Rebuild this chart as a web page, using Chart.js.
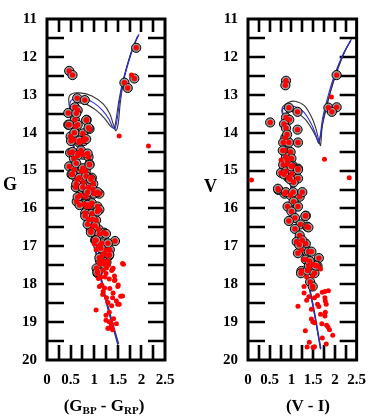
<!DOCTYPE html>
<html>
<head>
<meta charset="utf-8">
<script src="https://cdn.jsdelivr.net/npm/chart.js@4.4.0/dist/chart.umd.min.js"></script>
<style>
  body { margin: 0; background: #fff; }
  #wrap { position: relative; width: 377px; height: 417px; overflow: hidden;
          font-family: 'Liberation Serif', 'Times New Roman', serif; font-weight: bold; color: #000; }
  canvas { position: absolute; top: 0; }
  .lbl { position: absolute; font-size: 17px; line-height: 1; white-space: nowrap; }
  .lbl sub { font-size: 11px; vertical-align: -3px; line-height: 0; }
</style>
</head>
<body>
<div id="wrap">
  <canvas id="cmdGaia" width="188" height="417" style="left:0"></canvas>
  <canvas id="cmdVI" width="189" height="417" style="left:188px"></canvas>
  <div class="lbl" style="left:3px; top:175px; font-size:18px">G</div>
  <div class="lbl" style="left:204px; top:177px; font-size:18px">V</div>
  <div class="lbl" style="left:44px; top:397px; width:120px; text-align:center">(G<sub>BP</sub> - G<sub>RP</sub>)</div>
  <div class="lbl" style="left:248px; top:397px; width:120px; text-align:center">(V - I)</div>
</div>
<script>
// tick positions (labels at every 0.5 / 1, inner marks at 0.25 / 0.5)
const colourMarks = [0.25, 0.5, 0.75, 1, 1.25, 1.5, 1.75, 2, 2.25];
const magMarks = [11.5, 12, 12.5, 13, 13.5, 14, 14.5, 15, 15.5, 16, 16.5, 17, 17.5, 18, 18.5, 19, 19.5];

// Gaia panel: members [BP-RP, G]
const gaiaMembers = [
  [0.47,12.37],[0.54,12.48],[0.64,13.09],[0.80,13.14],[0.59,13.33],[0.65,13.41],[0.45,13.48],[0.59,13.66],
  [0.84,13.66],[0.45,13.79],[0.61,13.83],[0.90,13.90],[0.76,14.02],[0.50,14.10],[0.79,14.16],[0.57,14.19],
  [0.68,14.26],[1.89,11.76],[1.64,12.68],[1.85,12.57],[1.71,12.82],
  [0.51,14.22],[0.78,14.22],[0.49,14.53],[0.66,14.55],[0.76,14.58],[0.88,14.64],[0.57,14.68],[0.90,14.83],
  [0.47,14.89],[0.57,14.98],[0.73,15.02],[0.52,15.10],[0.82,15.02],[0.95,15.19],[0.64,15.23],[0.77,15.31],
  [0.98,15.35],[0.88,15.44],[0.61,15.44],[1.11,15.61],[0.70,15.65],[0.82,15.69],[0.63,15.82],[0.95,15.86],
  [0.79,15.89],[0.90,15.94],[1.07,15.95],[0.84,15.95],[1.11,16.03],[0.81,16.12],[0.95,16.14],[0.88,16.29],
  [1.04,16.31],[0.97,16.46],[0.93,16.58],[1.09,16.55],[1.21,16.64],[1.02,16.84],[1.44,16.86],[1.16,16.92],
  [1.09,17.00],[1.33,17.09],[1.19,17.21],[1.31,17.25],[1.12,17.37],[1.26,17.42],[1.05,17.58],[1.07,17.71],
  [1.19,17.40],[0.65,15.70],[0.83,15.65],[1.00,15.61],[0.69,15.91],[0.86,15.91],[1.07,16.08],[0.81,16.20],
  [0.97,16.29],[0.86,16.42],[1.02,16.46],[0.93,16.63],[1.11,16.67],[1.25,16.67],[1.04,16.84],[1.29,16.92],
  [1.14,17.05],[1.32,17.22],[1.11,17.30],[1.22,17.47],[1.07,17.68],
  [0.62,13.49],[0.47,13.79],[0.65,13.79],[0.83,13.67],[0.58,14.00],[0.88,13.87],[0.69,14.21],[0.83,14.17],
  [0.54,14.51],[0.72,14.47],[0.65,14.60],[0.86,14.55],[0.62,14.81],[0.76,14.94],[0.90,14.85],[0.54,15.10],
  [0.69,15.19],[0.83,15.15],[0.93,15.23],[0.62,15.36],[0.76,15.44],[0.97,15.49],[0.86,15.57],[1.07,15.57]
];
const gaiaField = [
  [1.79,12.48],[1.53,14.09],[2.15,14.35],
  [1.00,16.93],[1.25,17.10],[1.16,17.27],[1.60,17.45],[1.30,17.50],[1.40,17.58],[1.19,17.63],
  [1.12,17.47],[1.26,17.57],[1.37,17.64],[1.62,17.47],[1.09,17.85],[1.23,17.81],[1.44,17.89],[1.16,18.02],
  [1.33,18.11],[1.51,18.02],[1.19,18.19],[1.40,18.23],[1.56,18.32],[1.26,18.36],[1.47,18.44],[1.04,18.68],
  [1.37,18.57],[1.53,18.53],[1.25,18.82],[1.41,18.91],[1.32,18.99],[1.47,19.04],[1.30,19.16],[1.39,19.20],
  [1.36,19.12],[1.14,17.81],[1.32,17.86],[1.43,17.90],[1.11,18.06],[1.22,18.10],[1.50,18.06],[1.60,18.31],
  [1.18,18.27],[1.39,18.36],[1.29,18.48],[1.50,18.53],[1.32,18.74],[1.25,18.95],[1.36,19.04],[1.29,19.16],
  [1.04,17.09],[1.22,17.18],[1.11,17.43],[1.29,17.39],[1.39,17.60],[1.25,17.72],[1.43,17.78]
];
const gaiaIsoOuter = [
  [1.50,19.60],[1.30,18.70],[1.16,18.00],[1.07,17.40],[0.97,16.85],[0.80,16.20],[0.66,15.60],[0.60,15.00],
  [0.55,14.30],[0.50,13.55],[0.46,13.10],[0.52,12.98],[0.70,12.95],[0.95,13.03],[1.19,13.24],[1.33,13.50],
  [1.41,13.80],[1.46,13.95],[1.51,13.75],[1.55,13.24],[1.62,12.65],[1.72,12.14],[1.83,11.72],[1.94,11.42]
];
const gaiaIsoBest = [
  [1.51,19.58],[1.31,18.70],[1.17,18.00],[1.08,17.40],[0.98,16.85],[0.81,16.20],[0.67,15.60],[0.61,15.00],
  [0.56,14.30],[0.51,13.60],[0.49,13.20],[0.60,13.10],[0.78,13.10],[1.00,13.22],[1.18,13.42],[1.31,13.64],
  [1.39,13.85],[1.44,13.90],[1.49,13.62],[1.54,13.15],[1.63,12.58],[1.75,12.05],[1.86,11.65],[1.95,11.40]
];
const gaiaIsoInner = [
  [1.52,19.58],[1.32,18.70],[1.18,18.00],[1.09,17.40],[0.99,16.85],[0.82,16.20],[0.68,15.60],[0.62,15.00],
  [0.57,14.30],[0.53,13.65],[0.52,13.30],[0.65,13.22],[0.85,13.26],[1.05,13.42],[1.22,13.62],[1.34,13.82],
  [1.42,13.88],[1.47,13.60],[1.52,13.18],[1.60,12.68],[1.70,12.22],[1.82,11.75],[1.92,11.45]
];

// Johnson panel: members [V-I, V]
const viMembers = [
  [0.875,12.63],[0.86,12.75],[0.51,13.73],[0.94,13.34],[1.14,13.45],[0.875,13.60],[0.95,13.66],[0.83,13.77],
  [1.14,13.92],[0.875,13.88],[0.86,14.13],[0.81,14.26],[1.15,14.26],[0.94,14.26],
  [2.04,12.48],[1.85,13.34],[2.04,13.33],[1.93,13.45],
  [0.84,14.47],[0.98,14.51],[0.875,14.64],[1.00,14.68],[0.81,14.85],[0.91,14.83],[1.03,14.87],[1.15,14.95],
  [0.76,15.06],[0.875,15.02],[1.01,15.09],[0.93,15.19],[1.15,15.21],[1.05,15.31],[0.70,15.51],[0.84,15.61],
  [0.98,15.65],[1.19,15.69],[1.05,15.82],[0.91,15.95],[1.15,15.95],[1.33,16.19],[1.00,16.08],[1.08,16.25],
  [0.94,16.33],[1.21,16.42],[1.36,16.48],[1.08,16.54],[1.19,16.71],[1.12,16.88],[1.33,16.93],[1.23,17.10],
  [1.40,17.14],[1.46,17.14],[1.15,17.18],[1.63,17.31],[1.33,17.35],[1.50,17.48],[1.23,17.65],[1.40,17.60],
  [1.60,17.52],[1.22,17.71],[1.37,17.64],[1.53,17.71],[1.43,17.94],[1.49,18.06],[1.40,17.51],[1.56,17.51],
  [0.90,14.05],[0.80,14.47],[0.90,14.72],[1.00,14.89],[1.15,14.98],[0.83,15.10],[0.97,15.23],[0.69,15.48],
  [0.87,15.57],[1.04,15.57],[1.25,15.57],[1.32,16.20],[1.39,16.50],[1.25,16.84],[1.18,16.96],[1.42,17.39]
];
const viField = [
  [1.92,13.06],[1.76,14.70],[0.08,15.25],[2.33,15.19],[0.76,14.72],
  [1.28,17.35],[1.67,17.60],[1.49,17.77],[1.35,17.81],
  [1.29,18.06],[1.49,18.10],[1.85,18.17],[1.77,18.19],[1.71,18.21],[1.29,18.23],[1.60,18.30],[1.40,18.33],
  [1.53,18.36],[1.77,18.36],[1.35,18.42],[1.78,18.44],[1.80,18.53],[1.60,18.53],[1.15,18.58],[1.63,18.59],
  [1.46,18.66],[1.78,18.74],[1.67,18.79],[1.77,18.84],[1.46,18.92],[1.49,18.99],[1.53,19.02],[1.70,19.04],
  [1.81,19.08],[1.84,19.13],[1.875,19.20],[1.32,19.23],[1.95,19.35],[1.71,19.42],[1.41,19.53],[1.80,19.58],
  [1.53,19.65],[1.36,19.66],[1.50,19.67]
];
const viIsoOuter = [
  [1.67,19.72],[1.50,18.62],[1.35,17.77],[1.25,17.12],[1.15,16.52],[1.05,15.92],[0.97,15.32],[0.90,14.62],
  [0.85,14.02],[0.80,13.45],[0.79,13.33],[0.94,13.20],[1.08,13.17],[1.29,13.28],[1.46,13.58],[1.57,13.92],
  [1.64,14.26],[1.67,14.34],[1.71,13.83],[1.81,13.33],[1.92,12.82],[2.06,12.31],[2.23,11.85],[2.38,11.53]
];
const viIsoBest = [
  [1.67,19.70],[1.50,18.60],[1.35,17.75],[1.25,17.10],[1.15,16.50],[1.05,15.90],[0.97,15.30],[0.90,14.60],
  [0.85,14.00],[0.80,13.55],[0.78,13.40],[0.95,13.30],[1.10,13.32],[1.28,13.45],[1.45,13.75],[1.56,14.05],
  [1.62,14.25],[1.66,14.10],[1.72,13.60],[1.85,13.00],[2.00,12.45],[2.20,11.90],[2.37,11.55]
];
const viIsoInner = [
  [1.68,19.70],[1.51,18.60],[1.36,17.75],[1.26,17.10],[1.16,16.50],[1.06,15.90],[0.98,15.30],[0.91,14.60],
  [0.86,14.00],[0.82,13.55],[0.98,13.44],[1.15,13.50],[1.32,13.65],[1.48,13.92],[1.58,14.15],[1.63,14.28],
  [1.68,14.00],[1.76,13.50],[1.89,12.95],[2.05,12.38],[2.22,11.88],[2.36,11.58]
];

const toXY = arr => arr.map(([x, y]) => ({ x, y }));
const tickFont = { family: "'Liberation Serif', 'Times New Roman', serif", weight: 'bold', size: 15 };

// frame with inward tick marks on all four sides
const frameTicks = {
  id: 'frameTicks',
  beforeDatasetsDraw(chart) {
    const { ctx, chartArea: a, scales: { x, y } } = chart;
    ctx.save();
    ctx.strokeStyle = '#000';
    ctx.lineWidth = 2.6;
    ctx.beginPath();
    colourMarks.forEach(v => {
      const px = Math.round(x.getPixelForValue(v));
      ctx.moveTo(px, a.bottom); ctx.lineTo(px, a.bottom - 15);
      ctx.moveTo(px, a.top); ctx.lineTo(px, a.top + 13);
    });
    magMarks.forEach(v => {
      const py = Math.round(y.getPixelForValue(v));
      ctx.moveTo(a.left, py); ctx.lineTo(a.left + 17, py);
      ctx.moveTo(a.right, py); ctx.lineTo(a.right - 17, py);
    });
    ctx.stroke();
    ctx.lineWidth = 3;
    ctx.strokeRect(a.left, a.top, a.right - a.left, a.bottom - a.top);
    ctx.restore();
  }
};

function isoLine(points, colour, order) {
  return {
    type: 'line', data: toXY(points), borderColor: colour, borderWidth: 1.1,
    pointRadius: 0, fill: false, tension: 0.3, order
  };
}

function makePanel(id, members, field, isoOuter, isoBest, isoInner, axisWidth, padRight) {
  new Chart(document.getElementById(id), {
    type: 'scatter',
    data: {
      datasets: [
        isoLine(isoOuter, '#333', 6),
        isoLine(isoInner, '#333', 6),
        isoLine(isoBest, '#2a2aee', 5),
        { data: toXY(members), pointRadius: 4.6, pointBackgroundColor: '#9a9a9a',
          pointBorderColor: '#000', pointBorderWidth: 1, order: 4 },
        { data: toXY(field), pointRadius: 2.5, pointBackgroundColor: '#ff0000',
          pointBorderWidth: 0, order: 3 },
        { data: toXY(members), pointRadius: 2.7, pointBackgroundColor: '#ff0000',
          pointBorderWidth: 0, order: 2 }
      ]
    },
    options: {
      responsive: false,
      animation: false,
      events: [],
      layout: { padding: { top: 5, right: padRight, bottom: 0, left: 0 } },
      plugins: { legend: { display: false }, tooltip: { enabled: false } },
      scales: {
        x: {
          type: 'linear', min: 0, max: 2.5,
          ticks: { stepSize: 0.5, color: '#000', font: tickFont, padding: 11,
                   maxRotation: 0, minRotation: 0, autoSkip: false, callback: v => String(v) },
          grid: { display: false, drawTicks: false },
          border: { display: false },
          afterFit: s => { s.height = 57; }
        },
        y: {
          type: 'linear', min: 11, max: 20, reverse: true,
          ticks: { stepSize: 1, color: '#000', font: tickFont, padding: 10, autoSkip: false,
                   callback: v => String(v) },
          grid: { display: false, drawTicks: false },
          border: { display: false },
          afterFit: s => { s.width = axisWidth; }
        }
      }
    },
    plugins: [frameTicks]
  });
}

makePanel('cmdGaia', gaiaMembers, gaiaField, gaiaIsoOuter, gaiaIsoBest, gaiaIsoInner, 47, 23);
makePanel('cmdVI', viMembers, viField, viIsoOuter, viIsoBest, viIsoInner, 60, 9);
</script>
</body>
</html>
